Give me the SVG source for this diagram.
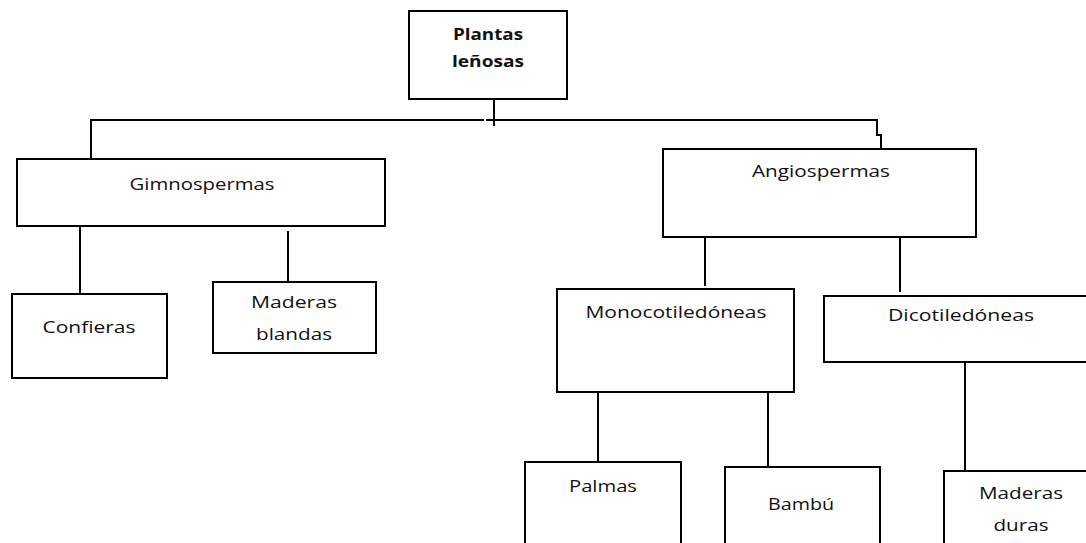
<svg xmlns="http://www.w3.org/2000/svg" width="1086" height="543" viewBox="0 0 1086 543">
<style>
.box{fill:#fff;stroke:#000;stroke-width:2}
.ln{fill:none;stroke:#000;stroke-width:2}
.t{font-family:"Open Sans","Liberation Sans",sans-serif;font-size:16px;fill:#111;text-anchor:middle}
.b{font-weight:bold}
</style>
<rect width="1086" height="543" fill="#fff"/>
<g id="connectors">
<path class="ln" d="M91,158 V120 H484 M486,120 H877 V135 H881 V149"/>
<path class="ln" d="M494,99 V126"/>
<path class="ln" d="M80,226 V294"/>
<path class="ln" d="M288,231 V282"/>
<path class="ln" d="M705,237 V286"/>
<path class="ln" d="M900,237 V292"/>
<path class="ln" d="M598,387 V462"/>
<path class="ln" d="M768,392 V467"/>
<path class="ln" d="M965,362 V471"/>
</g>
<g id="root">
<rect class="box" x="409" y="11" width="158" height="88"/>
<text class="t b" x="488" y="40" textLength="70" lengthAdjust="spacingAndGlyphs">Plantas</text>
<text class="t b" x="488" y="67" textLength="72" lengthAdjust="spacingAndGlyphs">leñosas</text>
</g>
<g id="gimnospermas">
<rect class="box" x="17" y="159" width="368" height="67"/>
<text class="t" x="202" y="190" textLength="145" lengthAdjust="spacingAndGlyphs">Gimnospermas</text>
</g>
<g id="confieras">
<rect class="box" x="12" y="294" width="155" height="84"/>
<text class="t" x="89" y="333" textLength="93" lengthAdjust="spacingAndGlyphs">Confieras</text>
</g>
<g id="maderas-blandas">
<rect class="box" x="213" y="282" width="163" height="71"/>
<text class="t" x="294" y="308" textLength="86" lengthAdjust="spacingAndGlyphs">Maderas</text>
<text class="t" x="294" y="340" textLength="76" lengthAdjust="spacingAndGlyphs">blandas</text>
</g>
<g id="angiospermas">
<rect class="box" x="663" y="149" width="313" height="88"/>
<text class="t" x="821" y="177" textLength="138" lengthAdjust="spacingAndGlyphs">Angiospermas</text>
</g>
<g id="monocotiledoneas">
<rect class="box" x="557" y="289" width="237" height="103"/>
<text class="t" x="676" y="318" textLength="181" lengthAdjust="spacingAndGlyphs">Monocotiledóneas</text>
</g>
<g id="dicotiledoneas">
<rect class="box" x="824" y="296" width="280" height="66"/>
<text class="t" x="961" y="321" textLength="146" lengthAdjust="spacingAndGlyphs">Dicotiledóneas</text>
</g>
<g id="palmas">
<rect class="box" x="525" y="462" width="156" height="100"/>
<text class="t" x="603" y="492" textLength="68" lengthAdjust="spacingAndGlyphs">Palmas</text>
</g>
<g id="bambu">
<rect class="box" x="725" y="467" width="155" height="100"/>
<text class="t" x="801" y="510" textLength="66" lengthAdjust="spacingAndGlyphs">Bambú</text>
</g>
<g id="maderas-duras">
<rect class="box" x="944" y="471" width="160" height="100"/>
<text class="t" x="1021" y="499" textLength="84" lengthAdjust="spacingAndGlyphs">Maderas</text>
<text class="t" x="1021" y="531" textLength="55" lengthAdjust="spacingAndGlyphs">duras</text>
</g>
</svg>
